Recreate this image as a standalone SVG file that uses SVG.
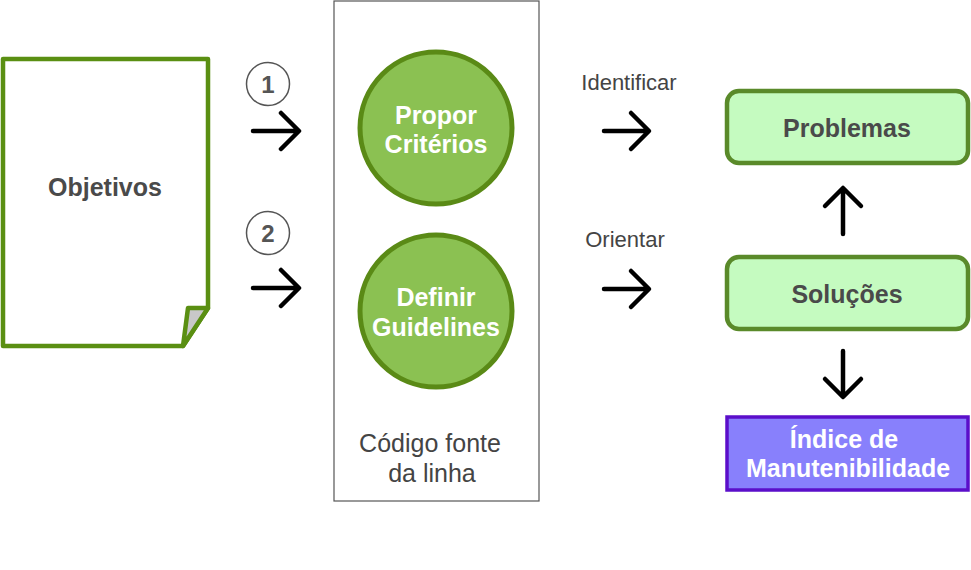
<svg xmlns="http://www.w3.org/2000/svg" width="971" height="570" viewBox="0 0 971 570">
<style>
.arrow{fill:none;stroke:#000;stroke-width:4.5;stroke-linecap:round;stroke-linejoin:round}
.circ{fill:#8bc152;stroke:#5a8a16;stroke-width:5}
.box{fill:#c5fbc0;stroke:#5a8a2a;stroke-width:4.5}
.t{font-family:"Liberation Sans",Arial,sans-serif;text-anchor:middle}
.bold{font-weight:bold;font-size:25px}
.wh{fill:#fff}
.dk{fill:#4a4a4a}
.lbl{font-size:25px;fill:#444}
.edge{font-size:22px;fill:#444}
.num{font-weight:bold;font-size:24px;fill:#555}
</style>
<rect width="971" height="570" fill="#fff"/>
<g id="objetivos">
<path d="M3,59 H208 V308 L183,346 H3 Z" fill="#fff" stroke="#5a8f12" stroke-width="4.5" stroke-linejoin="round"/>
<path d="M188,308 L208,308 L183,346 Z" fill="#c8c8c8" stroke="#5a8f12" stroke-width="4.5" stroke-linejoin="round"/>
<text class="t bold dk" x="105" y="196">Objetivos</text>
</g>
<g id="step1">
<circle cx="268" cy="84" r="21.5" fill="#fff" stroke="#555" stroke-width="1.5"/>
<text class="t num" x="268" y="93">1</text>
</g>
<g id="step2">
<circle cx="268" cy="233" r="21.5" fill="#fff" stroke="#555" stroke-width="1.5"/>
<text class="t num" x="268" y="242">2</text>
</g>
<g id="codigo">
<rect x="334" y="1" width="205" height="500" fill="#fff" stroke="#555" stroke-width="1.2"/>
<text class="t lbl" x="430" y="452">Código fonte</text>
<text class="t lbl" x="432" y="482">da linha</text>
</g>
<g id="propor">
<circle class="circ" cx="436" cy="128" r="76"/>
<text class="t bold wh" x="436" y="124">Propor</text>
<text class="t bold wh" x="436" y="153">Critérios</text>
</g>
<g id="definir">
<circle class="circ" cx="436" cy="311" r="76"/>
<text class="t bold wh" x="436" y="306">Definir</text>
<text class="t bold wh" x="436" y="336">Guidelines</text>
</g>
<g id="problemas">
<rect class="box" x="727" y="91" width="241" height="72" rx="12"/>
<text class="t bold dk" x="847" y="137">Problemas</text>
</g>
<g id="solucoes">
<rect class="box" x="727" y="257" width="241" height="72" rx="12"/>
<text class="t bold dk" x="847" y="303">Soluções</text>
</g>
<g id="indice">
<rect x="727" y="417" width="241" height="73" fill="#8880fc" stroke="#5b0fca" stroke-width="3.5"/>
<text class="t bold wh" x="844" y="448">Índice de</text>
<text class="t bold wh" x="848" y="477">Manutenibilidade</text>
</g>
<g id="connectors">
<text class="t edge" x="629" y="90">Identificar</text>
<text class="t edge" x="625" y="247">Orientar</text>
<path class="arrow" d="M253,131 H298 M281,113 L299,131 L281,149"/>
<path class="arrow" d="M253,288 H298 M281,270 L299,288 L281,306"/>
<path class="arrow" d="M604,131 H648 M631,113 L649,131 L631,149"/>
<path class="arrow" d="M604,289 H648 M631,271 L649,289 L631,307"/>
<path class="arrow" d="M843,234 V189 M825,206 L843,188 L861,206"/>
<path class="arrow" d="M843,351 V396 M825,379 L843,397 L861,379"/>
</g>
</svg>
